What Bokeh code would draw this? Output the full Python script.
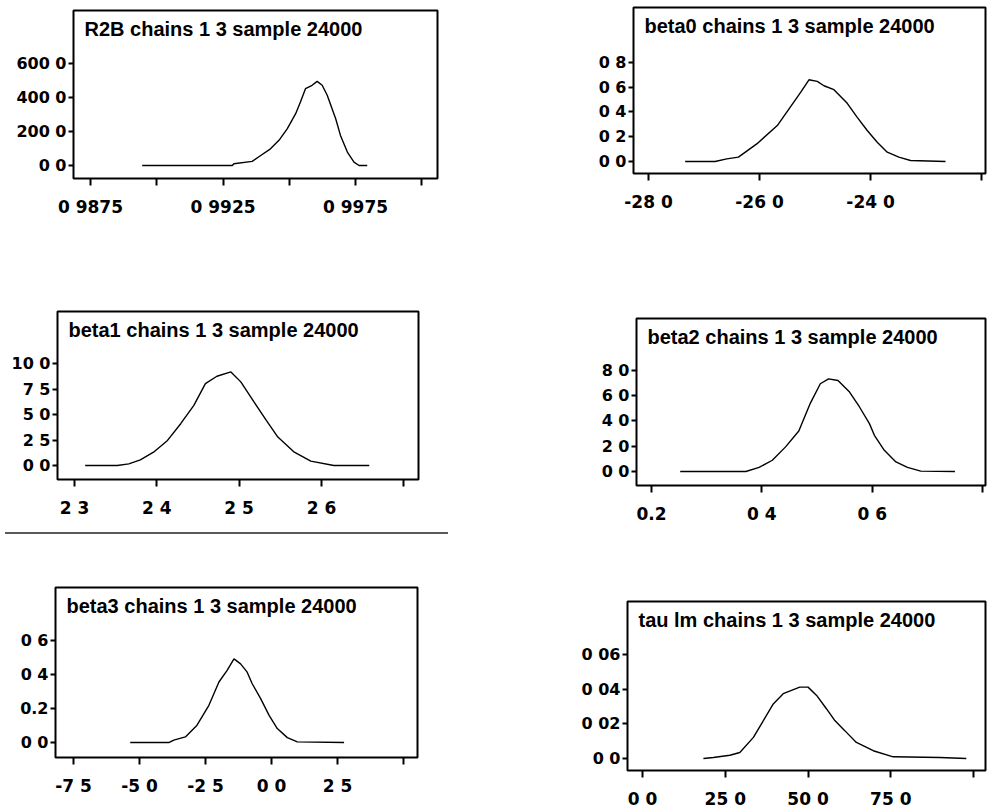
from bokeh.plotting import figure
from bokeh.models import Range1d, FixedTicker, Label, Spacer
from bokeh.layouts import row, column
from bokeh.embed import file_html
from bokeh.resources import INLINE

# Posterior density traces (3 chains pooled, 24000 samples each node)
r2b_x = [0.98945, 0.99285, 0.99291, 0.99360, 0.99392, 0.99429, 0.99461, 0.99492,
         0.99524, 0.99542, 0.99561, 0.99586, 0.99605, 0.99624, 0.99643, 0.99675,
         0.99693, 0.99719, 0.99744, 0.99763, 0.99794]
r2b_y = [0, 0, 10, 24, 59, 98, 148, 216, 305, 374, 452, 472, 495, 472, 413, 275,
         177, 79, 20, 0, 0]

beta0_x = [-27.34, -26.80, -26.59, -26.38, -26.05, -25.68, -25.44, -25.26, -25.11,
           -24.96, -24.84, -24.66, -24.42, -24.24, -24.06, -23.88, -23.70, -23.49,
           -23.28, -22.65]
beta0_y = [0.0, 0.0, 0.021, 0.035, 0.142, 0.290, 0.443, 0.558, 0.660, 0.647, 0.612,
           0.580, 0.470, 0.357, 0.250, 0.156, 0.075, 0.035, 0.008, 0.0]

beta1_x = [2.313, 2.352, 2.366, 2.380, 2.396, 2.413, 2.429, 2.445, 2.459, 2.473,
           2.490, 2.502, 2.518, 2.533, 2.547, 2.567, 2.587, 2.615, 2.658]
beta1_y = [0.0, 0.0, 0.16, 0.56, 1.31, 2.46, 4.10, 5.90, 8.03, 8.75, 9.18, 8.20,
           6.23, 4.43, 2.79, 1.31, 0.43, 0.0, 0.0]

beta2_x = [0.252, 0.371, 0.395, 0.419, 0.443, 0.467, 0.488, 0.506, 0.521, 0.538,
           0.559, 0.577, 0.595, 0.604, 0.622, 0.643, 0.664, 0.688, 0.750]
beta2_y = [0.0, 0.0, 0.32, 0.89, 1.95, 3.21, 5.42, 6.95, 7.34, 7.21, 6.29, 5.11,
           3.79, 2.87, 1.68, 0.76, 0.32, 0.03, 0.0]

beta3_x = [-5.35, -3.89, -3.70, -3.26, -2.82, -2.37, -1.99, -1.68, -1.42, -1.17,
           -0.92, -0.73, -0.41, -0.09, 0.22, 0.60, 0.98, 2.75]
beta3_y = [0.0, 0.0, 0.014, 0.033, 0.102, 0.219, 0.356, 0.424, 0.492, 0.463, 0.414,
           0.346, 0.258, 0.160, 0.082, 0.029, 0.004, 0.0]

tau_x = [18.4, 21.4, 26.4, 29.4, 33.5, 39.5, 42.5, 47.5, 50.0, 52.6, 55.6, 58.1,
         61.1, 64.6, 69.7, 75.7, 89.8, 97.8]
tau_y = [0.0, 0.0006, 0.0019, 0.0035, 0.0122, 0.0315, 0.0374, 0.0412, 0.0412,
         0.0364, 0.0286, 0.0219, 0.0161, 0.0093, 0.0045, 0.0010, 0.0006, 0.0]

# Tick positions and their printed labels ("" = tick without label)
r2b_xticks = [0.9875, 0.99, 0.9925, 0.995, 0.9975, 1.0]
r2b_xlabels = ["0 9875", "", "0 9925", "", "0 9975", ""]
r2b_yticks = [0, 200, 400, 600]
r2b_ylabels = ["0 0", "200 0", "400 0", "600 0"]

beta0_xticks = [-28, -26, -24, -22]
beta0_xlabels = ["-28 0", "-26 0", "-24 0", ""]
beta0_yticks = [0.0, 0.2, 0.4, 0.6, 0.8]
beta0_ylabels = ["0 0", "0 2", "0 4", "0 6", "0 8"]

beta1_xticks = [2.3, 2.4, 2.5, 2.6, 2.7]
beta1_xlabels = ["2 3", "2 4", "2 5", "2 6", ""]
beta1_yticks = [0.0, 2.5, 5.0, 7.5, 10.0]
beta1_ylabels = ["0 0", "2 5", "5 0", "7 5", "10 0"]

beta2_xticks = [0.2, 0.4, 0.6, 0.8]
beta2_xlabels = ["0.2", "0 4", "0 6", ""]
beta2_yticks = [0.0, 2.0, 4.0, 6.0, 8.0]
beta2_ylabels = ["0 0", "2 0", "4 0", "6 0", "8 0"]

beta3_xticks = [-7.5, -5.0, -2.5, 0.0, 2.5, 5.0]
beta3_xlabels = ["-7 5", "-5 0", "-2 5", "0 0", "2 5", ""]
beta3_yticks = [0.0, 0.2, 0.4, 0.6]
beta3_ylabels = ["0 0", "0.2", "0 4", "0 6"]

tau_xticks = [0, 25, 50, 75, 100]
tau_xlabels = ["0 0", "25 0", "50 0", "75 0", ""]
tau_yticks = [0.0, 0.02, 0.04, 0.06]
tau_ylabels = ["0 0", "0 02", "0 04", "0 06"]

TICK_FONT = "DejaVu Sans"
TITLE_FONT = "Liberation Sans"


def density_panel(frame, borders, xr, yr, xticks, xlabels, yticks, ylabels,
                  xs, ys, title):
    fw, fh = frame
    left, right, top, bottom = borders
    p = figure(frame_width=fw, frame_height=fh,
               x_range=Range1d(*xr), y_range=Range1d(*yr),
               output_backend="svg", toolbar_location=None,
               min_border_left=left, min_border_right=right,
               min_border_top=top, min_border_bottom=bottom)
    p.grid.visible = False
    p.background_fill_color = "white"
    p.border_fill_color = "white"
    p.outline_line_color = "black"
    p.outline_line_width = 2
    for ax, ticks, labels, size in ((p.xaxis[0], xticks, xlabels, "17px"),
                                    (p.yaxis[0], yticks, ylabels, "16px")):
        ax.ticker = FixedTicker(ticks=ticks)
        ax.major_label_overrides = dict(zip(ticks, labels))
        ax.axis_line_color = None
        ax.major_tick_line_width = 2
        ax.major_tick_line_color = "black"
        ax.major_tick_in = 0
        ax.minor_tick_line_color = None
        ax.major_label_text_font = TICK_FONT
        ax.major_label_text_font_style = "bold"
        ax.major_label_text_font_size = size
        ax.major_label_text_color = "black"
    p.xaxis.major_tick_out = 7
    p.xaxis.major_label_standoff = 11
    p.yaxis.major_tick_out = 5
    p.yaxis.major_label_standoff = 2

    p.line(xs, ys, line_color="black", line_width=1.4)

    # node title sits inside the frame, near its top-left corner
    p.add_layout(Label(x=xr[0] + 11 / fw * (xr[1] - xr[0]),
                       y=yr[1] - 18 / fh * (yr[1] - yr[0]),
                       text=title, text_font=TITLE_FONT, text_font_style="bold",
                       text_font_size="20px", text_baseline="middle",
                       text_align="left", text_color="black"))
    # each panel gets its own row so its borders are kept as given
    return row(p)


p1 = density_panel((364, 168), (73, 57, 10, 72), (0.98686, 1.00059), (-76.5, 912),
                   r2b_xticks, r2b_xlabels, r2b_yticks, r2b_ylabels,
                   r2b_x, r2b_y, "R2B chains 1 3 sample 24000")
p3 = density_panel((361, 168), (57, 76, 61, 53), (2.2794, 2.7178), (-1.37, 15.1),
                   beta1_xticks, beta1_xlabels, beta1_yticks, beta1_ylabels,
                   beta1_x, beta1_y, "beta1 chains 1 3 sample 24000")
p5 = density_panel((362, 170), (55, 77, 53, 49), (-8.18, 5.53), (-0.088, 0.912),
                   beta3_xticks, beta3_xlabels, beta3_yticks, beta3_ylabels,
                   beta3_x, beta3_y, "beta3 chains 1 3 sample 24000")

p2 = density_panel((352, 166), (139, 3, 7, 77), (-28.27, -21.93), (-0.097, 1.244),
                   beta0_xticks, beta0_xlabels, beta0_yticks, beta0_ylabels,
                   beta0_x, beta0_y, "beta0 chains 1 3 sample 24000")
p4 = density_panel((349, 167), (142, 3, 68, 55), (0.1728, 0.8054), (-1.11, 12.12),
                   beta2_xticks, beta2_xlabels, beta2_yticks, beta2_ylabels,
                   beta2_x, beta2_y, "beta2 chains 1 3 sample 24000")
p6 = density_panel((358, 169), (133, 3, 61, 38), (-4.53, 103.6), (-0.0069, 0.0906),
                   tau_xticks, tau_xlabels, tau_yticks, tau_ylabels,
                   tau_x, tau_y, "tau lm chains 1 3 sample 24000")

# thin rule separating the lower-left panel
rule = row(Spacer(width=5, height=2),
           Spacer(width=443, height=2, styles={"background-color": "#5a5a5a"}))

left = column(p1, p3, rule, p5, width=494)
right = column(p2, p4, p6, width=494)
layout = row(left, right)

open("out.html", "w").write(file_html(layout, INLINE, title="density"))
